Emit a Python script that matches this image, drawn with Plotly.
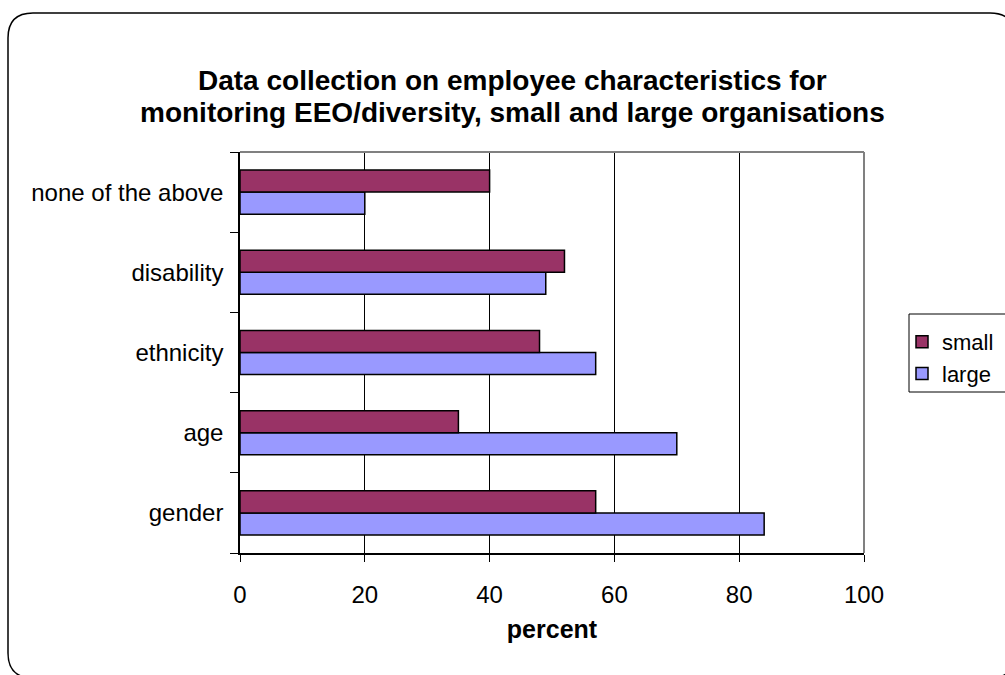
import plotly.graph_objects as go

# Survey results: share of organisations collecting each characteristic
categories = ["gender", "age", "ethnicity", "disability", "none of the above"]
small = [57, 35, 48, 52, 40]
large = [84, 70, 57, 49, 20]
x_ticks = [0, 20, 40, 60, 80, 100]

W, H = 1005, 675
L, R, T, B = 240, 864, 152, 553  # plot area in pixels


def px(x):
    return (x - L) / (R - L)


def py(y):
    return (B - y) / (B - T)


FONT = "Liberation Sans, Arial, sans-serif"

fig = go.Figure()
fig.add_trace(go.Bar(
    y=categories, x=large, name="large", orientation="h",
    marker=dict(color="#9999FF", line=dict(color="black", width=1.5)),
))
fig.add_trace(go.Bar(
    y=categories, x=small, name="small", orientation="h",
    marker=dict(color="#993366", line=dict(color="black", width=1.5)),
))

# rounded outer frame
x0, y0, x1, y1, r = 8, 13, 1015, 678, 25
path = (
    f"M {px(x0 + r)},{py(y0)} L {px(x1 - r)},{py(y0)} "
    f"Q {px(x1)},{py(y0)} {px(x1)},{py(y0 + r)} "
    f"L {px(x1)},{py(y1 - r)} Q {px(x1)},{py(y1)} {px(x1 - r)},{py(y1)} "
    f"L {px(x0 + r)},{py(y1)} Q {px(x0)},{py(y1)} {px(x0)},{py(y1 - r)} "
    f"L {px(x0)},{py(y0 + r)} Q {px(x0)},{py(y0)} {px(x0 + r)},{py(y0)} Z"
)
shapes = [
    dict(type="path", path=path, xref="paper", yref="paper",
         line=dict(color="black", width=1.5), layer="below"),
    # grey top and right border of the plot area
    dict(type="line", xref="paper", yref="paper", x0=0, x1=1, y0=1, y1=1,
         line=dict(color="#808080", width=2)),
    dict(type="line", xref="paper", yref="paper", x0=1, x1=1, y0=0, y1=1,
         line=dict(color="#808080", width=2)),
    # legend box
    dict(type="rect", xref="paper", yref="paper",
         x0=px(909), x1=px(1012), y0=py(392), y1=py(314),
         line=dict(color="black", width=1), fillcolor="white", layer="below"),
]

annotations = [
    dict(text="<b>Data collection on employee characteristics for</b>",
         xref="paper", yref="paper", x=px(512), y=py(80), showarrow=False,
         xanchor="center", yanchor="middle",
         font=dict(family=FONT, size=28, color="black")),
    dict(text="<b>monitoring EEO/diversity, small and large organisations</b>",
         xref="paper", yref="paper", x=px(512), y=py(113), showarrow=False,
         xanchor="center", yanchor="middle",
         font=dict(family=FONT, size=28, color="black")),
]

fig.update_layout(
    width=W, height=H,
    margin=dict(l=L, r=W - R, t=T, b=H - B, pad=0, autoexpand=False),
    paper_bgcolor="white", plot_bgcolor="white",
    barmode="group", bargap=0.45, bargroupgap=0,
    font=dict(family=FONT, size=24, color="black"),
    shapes=shapes, annotations=annotations,
    showlegend=True,
    legend=dict(
        x=px(902), y=py(358), xanchor="left", yanchor="middle",
        traceorder="reversed", borderwidth=0,
        bgcolor="rgba(0,0,0,0)", font=dict(family=FONT, size=22, color="black"),
        itemwidth=30, tracegroupgap=0,
    ),
    xaxis=dict(
        range=[0, 100], tickvals=x_ticks, ticktext=[str(v) for v in x_ticks],
        showgrid=True, gridcolor="black", gridwidth=1,
        showline=True, linecolor="black", linewidth=1.5,
        ticks="outside", ticklen=7, tickcolor="black",
        ticklabelstandoff=12, zeroline=False, automargin=False,
        tickfont=dict(family=FONT, size=24, color="black"),
        title=dict(text="<b>percent</b>", standoff=14,
                   font=dict(family=FONT, size=25, color="black")),
    ),
    yaxis=dict(
        type="category", categoryorder="array", categoryarray=categories,
        showline=True, linecolor="black", linewidth=1.5,
        ticks="outside", ticklen=8, tickcolor="black", tickson="boundaries",
        ticklabelstandoff=10, showgrid=False, zeroline=False, automargin=False,
        tickfont=dict(family=FONT, size=24, color="black"),
    ),
)

fig.write_html("out.html")
